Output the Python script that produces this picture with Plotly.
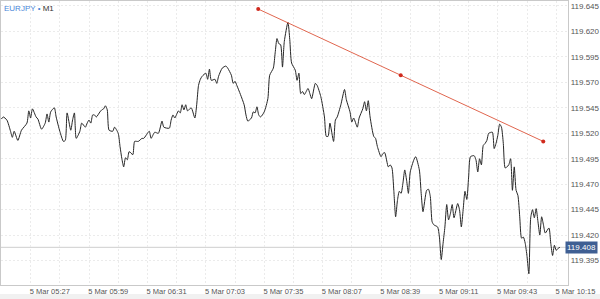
import pandas as pd
import plotly.graph_objects as go

# ---- data (EURJPY, M1, 5 Mar) ----
base_time = "2025-03-05 04:55"
minute_offsets = [
    0, 1, 3, 5, 6, 7, 9, 11, 14, 15, 16, 17, 19, 20, 22, 24, 25, 26, 27, 29,
    30, 32, 34, 35, 36, 38, 39, 40, 41, 43, 44, 46, 47, 48, 49, 50, 51, 52, 54, 55,
    56, 57, 58, 59, 61, 62, 64, 65, 66, 67, 68, 69, 70, 72, 73, 75, 77,
    78, 81, 82, 84, 86, 88, 89, 92, 93, 94, 95, 97, 98, 99, 100, 101, 102, 104, 106, 107,
    108, 109, 110, 112, 113, 114, 115, 117, 118, 119, 121, 123, 124, 126, 127, 128, 129, 131, 133, 134,
    135, 137, 138, 139, 140, 141, 142, 144, 146, 147, 149, 150, 151, 152, 153, 154, 155,
    157, 158, 159, 161, 162, 163, 164, 165, 166, 168, 169, 170, 172, 173, 175, 177, 178, 179, 180, 182,
    183, 184, 186, 188, 189, 191, 192, 193, 195, 196, 198, 199, 200, 201, 202, 204, 205, 206, 208, 209,
    210, 212, 213, 214, 215, 216, 217, 218, 219, 220, 221, 222, 223, 224, 226, 227, 229, 230,
    231, 233, 234, 235, 236, 237, 239, 240, 241, 242, 243, 244, 245, 246, 247, 248, 250, 251, 252, 253,
    254, 255, 256, 257, 259, 260, 261, 262, 263, 264, 265, 266, 267, 269, 270, 271, 272, 273, 274, 275,
    276, 277, 278, 279, 280, 281, 282, 283, 284, 285, 286, 287, 288, 289, 290, 291, 292, 293, 294, 295,
    296, 297, 298, 300, 301, 302, 303, 304, 305, 306,
]
prices = [
    119.534, 119.536, 119.533, 119.522, 119.516, 119.522, 119.513, 119.523, 119.530, 119.542,
    119.535, 119.544, 119.536, 119.534, 119.524, 119.530, 119.539, 119.531, 119.541, 119.545,
    119.536, 119.522, 119.512, 119.513, 119.540, 119.523, 119.533, 119.540, 119.515, 119.522,
    119.530, 119.526, 119.530, 119.533, 119.530, 119.538, 119.538, 119.536, 119.541, 119.543,
    119.544, 119.547, 119.543, 119.523, 119.522, 119.526, 119.520, 119.507, 119.495, 119.487,
    119.496, 119.494, 119.502, 119.499, 119.512, 119.512, 119.515,
    119.515, 119.522, 119.515, 119.521, 119.520, 119.532, 119.526, 119.525, 119.533, 119.538,
    119.535, 119.542, 119.540, 119.548, 119.543, 119.548, 119.542, 119.545, 119.535, 119.548,
    119.567, 119.573, 119.576, 119.579, 119.573, 119.583, 119.572, 119.573, 119.569, 119.576,
    119.584, 119.586, 119.584, 119.577, 119.569, 119.571, 119.567, 119.558, 119.548, 119.538,
    119.532, 119.535, 119.541, 119.540, 119.546, 119.538, 119.536, 119.541, 119.554, 119.577,
    119.584, 119.599, 119.613, 119.608, 119.607, 119.585, 119.610,
    119.629, 119.612, 119.589, 119.582, 119.572, 119.579, 119.559, 119.561, 119.558, 119.564,
    119.559, 119.554, 119.569, 119.567, 119.556, 119.536, 119.517, 119.517, 119.530, 119.512,
    119.533, 119.536, 119.548, 119.563, 119.553, 119.541, 119.531, 119.535, 119.526, 119.535,
    119.544, 119.551, 119.542, 119.552, 119.536, 119.517, 119.515, 119.507, 119.497, 119.500,
    119.501, 119.487, 119.489, 119.486, 119.464, 119.438, 119.454, 119.463, 119.461, 119.471,
    119.484, 119.474, 119.461, 119.482, 119.494, 119.497, 119.484, 119.461,
    119.443, 119.464, 119.465, 119.458, 119.433, 119.430, 119.428, 119.418, 119.396, 119.412,
    119.428, 119.450, 119.435, 119.441, 119.450, 119.437, 119.451, 119.445, 119.428, 119.445,
    119.463, 119.455, 119.477, 119.497, 119.498, 119.494, 119.482, 119.495, 119.489, 119.508,
    119.510, 119.513, 119.520, 119.521, 119.505, 119.510, 119.518, 119.529, 119.526, 119.510,
    119.486, 119.487, 119.489, 119.495, 119.464, 119.487, 119.464, 119.459, 119.438, 119.417,
    119.418, 119.412, 119.399, 119.382, 119.437, 119.445, 119.437, 119.446, 119.433, 119.420,
    119.438, 119.430, 119.422, 119.427, 119.412, 119.400, 119.410, 119.405, 119.407, 119.408,
]
assert len(minute_offsets) == len(prices)

# trend line (drawn object): time offsets in minutes, prices
trend_offsets = [140.7, 218.8, 296.9]
trend_prices = [119.642, 119.577, 119.512]

x_tick_labels_times = ["05:27", "05:59", "06:31", "07:03", "07:35", "08:07", "08:39", "09:11", "09:43", "10:15"]
y_ticks = [119.395, 119.420, 119.445, 119.470, 119.495, 119.520, 119.545, 119.570, 119.595, 119.620, 119.645]

# ---- build ----
t0 = pd.Timestamp(base_time)
times = [t0 + pd.Timedelta(minutes=m) for m in minute_offsets]
trend_times = [t0 + pd.Timedelta(minutes=m) for m in trend_offsets]
tick_times = [pd.Timestamp("2025-03-05 " + s) for s in x_tick_labels_times]

W, H = 600, 299
ML, MR, MT, MB = 1, 0, 1, 14
plot_w = W - ML - MR
main_dom = (570 - ML) / plot_w

x_left = t0 + pd.Timedelta(minutes=-0.22)
x_right = t0 + pd.Timedelta(minutes=310.5)
span = (x_right - x_left)
x2_right = x_left + span / main_dom

y_lo, y_hi = 119.371, 119.6499

GRID = "#ebebeb"
AX = "#c9c9c9"
TXT = "#555555"
FONT = "Liberation Sans, Arial, sans-serif"

fig = go.Figure()
fig.add_trace(go.Scatter(
    x=times, y=prices, mode="lines",
    line=dict(color="#262626", width=1, shape="spline", smoothing=0.6),
    hoverinfo="skip", showlegend=False,
))
fig.add_trace(go.Scatter(
    x=trend_times, y=trend_prices, mode="lines+markers",
    line=dict(color="#e0664f", width=1),
    marker=dict(color="#d02a1e", size=4),
    hoverinfo="skip", showlegend=False,
))
# invisible helper trace for the label axis
fig.add_trace(go.Scatter(
    x=[times[0], times[-1]], y=[prices[-1], prices[-1]], mode="markers",
    marker=dict(opacity=0), xaxis="x2", yaxis="y2",
    hoverinfo="skip", showlegend=False,
))

# last price line
fig.add_shape(type="line", xref="x domain", yref="y", x0=0, x1=1,
              y0=prices[-1], y1=prices[-1], line=dict(color="#cfcfcf", width=1), layer="below")
# bottom band
fig.add_shape(type="rect", xref="paper", yref="paper", x0=-0.01, x1=1.01,
              y0=-14 / 284, y1=-9 / 284, fillcolor="#f1f1f1", line=dict(width=0), layer="below")

fig.add_annotation(xref="paper", yref="y", x=1, y=prices[-1], xanchor="right", yanchor="middle",
                   text=f"{prices[-1]:.3f}", showarrow=False, bgcolor="#3f5f93",
                   font=dict(color="white", size=8, family=FONT), borderpad=1)
fig.add_annotation(xref="paper", yref="paper", x=0, y=1, xanchor="left", yanchor="top",
                   xshift=1, yshift=-1,
                   text='<span style="color:#4a86d8">EURJPY</span> <span style="color:#4a86d8">•</span> M1',
                   showarrow=False, font=dict(color="#333333", size=8, family=FONT))

fig.update_layout(
    width=W, height=H,
    margin=dict(l=ML, r=MR, t=MT, b=MB),
    paper_bgcolor="white", plot_bgcolor="rgba(0,0,0,0)",
    font=dict(family=FONT, color=TXT),
    xaxis=dict(
        domain=[0, main_dom], range=[x_left, x_right], type="date",
        showticklabels=False, ticks="",
        tick0=t0, dtick=16 * 60 * 1000,
        showgrid=True, gridcolor=GRID, griddash="2px,2px", gridwidth=1,
        showline=True, linecolor=AX, linewidth=1, mirror=True, zeroline=False,
        anchor="y",
    ),
    yaxis=dict(
        range=[y_lo, y_hi], side="right", anchor="x",
        tickvals=y_ticks, tickformat=".3f", ticks="",
        tickfont=dict(size=8, color=TXT),
        showgrid=True, gridcolor=GRID, griddash="2px,2px", gridwidth=1,
        showline=True, linecolor=AX, linewidth=1, mirror=True, zeroline=False,
    ),
    xaxis2=dict(
        domain=[0, 1], range=[x_left, x2_right], type="date", anchor="y2",
        tickvals=tick_times, tickformat="%-d %b %H:%M", ticks="",
        tickfont=dict(size=7.5, color=TXT), ticklabelshift=-10,
        showgrid=False, showline=False, zeroline=False,
    ),
    yaxis2=dict(domain=[0, 1], anchor="x2", visible=False, range=[y_lo, y_hi],
                showgrid=False),
)

fig.write_html("out.html")
